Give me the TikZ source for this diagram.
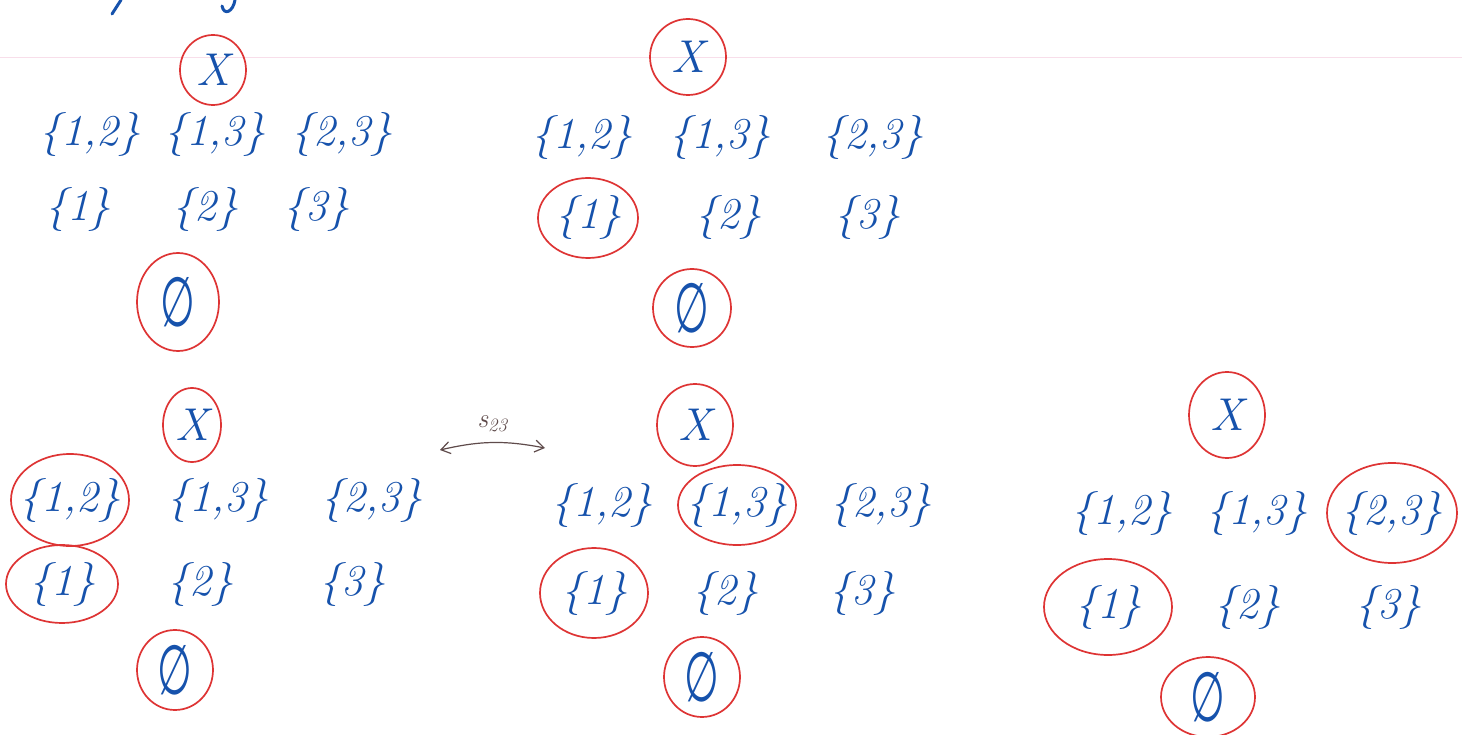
\documentclass[tikz,border=0pt]{standalone}
\usepackage{fontspec}
\newfontfamily\symfnt{DejaVu Sans}
\usetikzlibrary{shapes.geometric,arrows.meta}
\definecolor{ink}{RGB}{22,82,172}
\definecolor{pen}{RGB}{222,52,52}
\definecolor{pencil}{RGB}{95,75,75}
\definecolor{rule}{RGB}{248,222,234}
\newcommand{\tallnull}{\scalebox{0.95}[1.65]{∅}}
\tikzset{
  setlbl/.style={text=ink,font=\fontsize{44}{50}\selectfont\itshape,inner sep=0pt},
  topset/.style={text=ink,font=\fontsize{46}{50}\selectfont\itshape,inner sep=0pt},
  nullset/.style={text=ink,font=\fontsize{42}{50}\selectfont\symfnt,inner sep=0pt},
  ring/.style={draw=pen,line width=1.7pt},
  swap/.style={draw=pencil,line width=1.2pt,<->,>={Straight Barb[length=9pt,width=12pt]}},
  swaplbl/.style={text=pencil,font=\fontsize{27}{30}\selectfont\itshape,inner sep=0pt},
  frag/.style={draw=ink,line width=3pt,line cap=round}
}
\begin{document}
\begin{tikzpicture}[x=1pt,y=-1pt]
\useasboundingbox (0,0) rectangle (1462,735);
\fill[white] (0,0) rectangle (1462,735);
% ruled line of the paper
\draw[rule,line width=1pt] (0,58) -- (1462,58);
% cropped fragments of text at the top edge
\draw[frag] (112,14) -- (121,0);
\draw[frag] (235,0) .. controls (233,12) and (224,16) .. (222,6);

% ---------- panel 1 ----------
\node[topset] (p1X) at (213,70) {X};
\draw[ring] (p1X.center) ellipse [x radius=33pt, y radius=35pt];
\node[setlbl] (p1a) at (90,135) {\{1,2\}};
\node[setlbl] (p1b) at (215,135) {\{1,3\}};
\node[setlbl] (p1c) at (342,135) {\{2,3\}};
\node[setlbl] (p1d) at (78,210) {\{1\}};
\node[setlbl] (p1e) at (205,210) {\{2\}};
\node[setlbl] (p1f) at (316,210) {\{3\}};
\node[nullset] (p1E) at (178,302) {\tallnull};
\draw[ring] (p1E.center) ellipse [x radius=41pt, y radius=49pt];

% ---------- panel 2 ----------
\node[topset] (p2X) at (688,57) {X};
\draw[ring] (p2X.center) ellipse [x radius=38pt, y radius=38pt];
\node[setlbl] (p2a) at (582,138) {\{1,2\}};
\node[setlbl] (p2b) at (720,138) {\{1,3\}};
\node[setlbl] (p2c) at (873,138) {\{2,3\}};
\node[setlbl] (p2d) at (588,218) {\{1\}};
\draw[ring] (p2d.center) ellipse [x radius=50pt, y radius=40pt];
\node[setlbl] (p2e) at (728,218) {\{2\}};
\node[setlbl] (p2f) at (867,218) {\{3\}};
\node[nullset] (p2E) at (692,308) {\tallnull};
\draw[ring] (p2E.center) ellipse [x radius=39pt, y radius=39pt];

% ---------- panel 3 ----------
\node[topset] (p3X) at (192,425) {X};
\draw[ring] (p3X.center) ellipse [x radius=29pt, y radius=37pt];
\node[setlbl] (p3a) at (70,500) {\{1,2\}};
\draw[ring] (p3a.center) ellipse [x radius=59pt, y radius=46pt];
\node[setlbl] (p3b) at (218,500) {\{1,3\}};
\node[setlbl] (p3c) at (372,500) {\{2,3\}};
\node[setlbl] (p3d) at (62,584) {\{1\}};
\draw[ring] (p3d.center) ellipse [x radius=56pt, y radius=39pt];
\node[setlbl] (p3e) at (200,584) {\{2\}};
\node[setlbl] (p3f) at (352,584) {\{3\}};
\node[nullset] (p3E) at (175,670) {\tallnull};
\draw[ring] (p3E.center) ellipse [x radius=38pt, y radius=40pt];

% ---------- swap arrow ----------
\coordinate (sL) at (440,450);
\coordinate (sR) at (545,448);
\draw[swap] (sL) to[bend left=12] node[swaplbl,above=10pt] (sw) {s\textsubscript{23}} (sR);

% ---------- panel 4 ----------
\node[topset] (p4X) at (695,425) {X};
\draw[ring] (p4X.center) ellipse [x radius=38pt, y radius=41pt];
\node[setlbl] (p4a) at (602,505) {\{1,2\}};
\node[setlbl] (p4b) at (737,505) {\{1,3\}};
\draw[ring] (p4b.center) ellipse [x radius=59pt, y radius=40pt];
\node[setlbl] (p4c) at (881,505) {\{2,3\}};
\node[setlbl] (p4d) at (594,593) {\{1\}};
\draw[ring] (p4d.center) ellipse [x radius=54pt, y radius=45pt];
\node[setlbl] (p4e) at (725,593) {\{2\}};
\node[setlbl] (p4f) at (862,593) {\{3\}};
\node[nullset] (p4E) at (702,677) {\tallnull};
\draw[ring] (p4E.center) ellipse [x radius=38pt, y radius=40pt];

% ---------- panel 5 ----------
\node[topset] (p5X) at (1227,415) {X};
\draw[ring] (p5X.center) ellipse [x radius=38pt, y radius=43pt];
\node[setlbl] (p5a) at (1122,513) {\{1,2\}};
\node[setlbl] (p5b) at (1257,513) {\{1,3\}};
\node[setlbl] (p5c) at (1392,513) {\{2,3\}};
\draw[ring] (p5c.center) ellipse [x radius=65pt, y radius=50pt];
\node[setlbl] (p5d) at (1108,607) {\{1\}};
\draw[ring] (p5d.center) ellipse [x radius=64pt, y radius=48pt];
\node[setlbl] (p5e) at (1247,607) {\{2\}};
\node[setlbl] (p5f) at (1388,607) {\{3\}};
\node[nullset] (p5E) at (1208,697) {\tallnull};
\draw[ring] (p5E.center) ellipse [x radius=47pt, y radius=40pt];
\end{tikzpicture}
\end{document}
